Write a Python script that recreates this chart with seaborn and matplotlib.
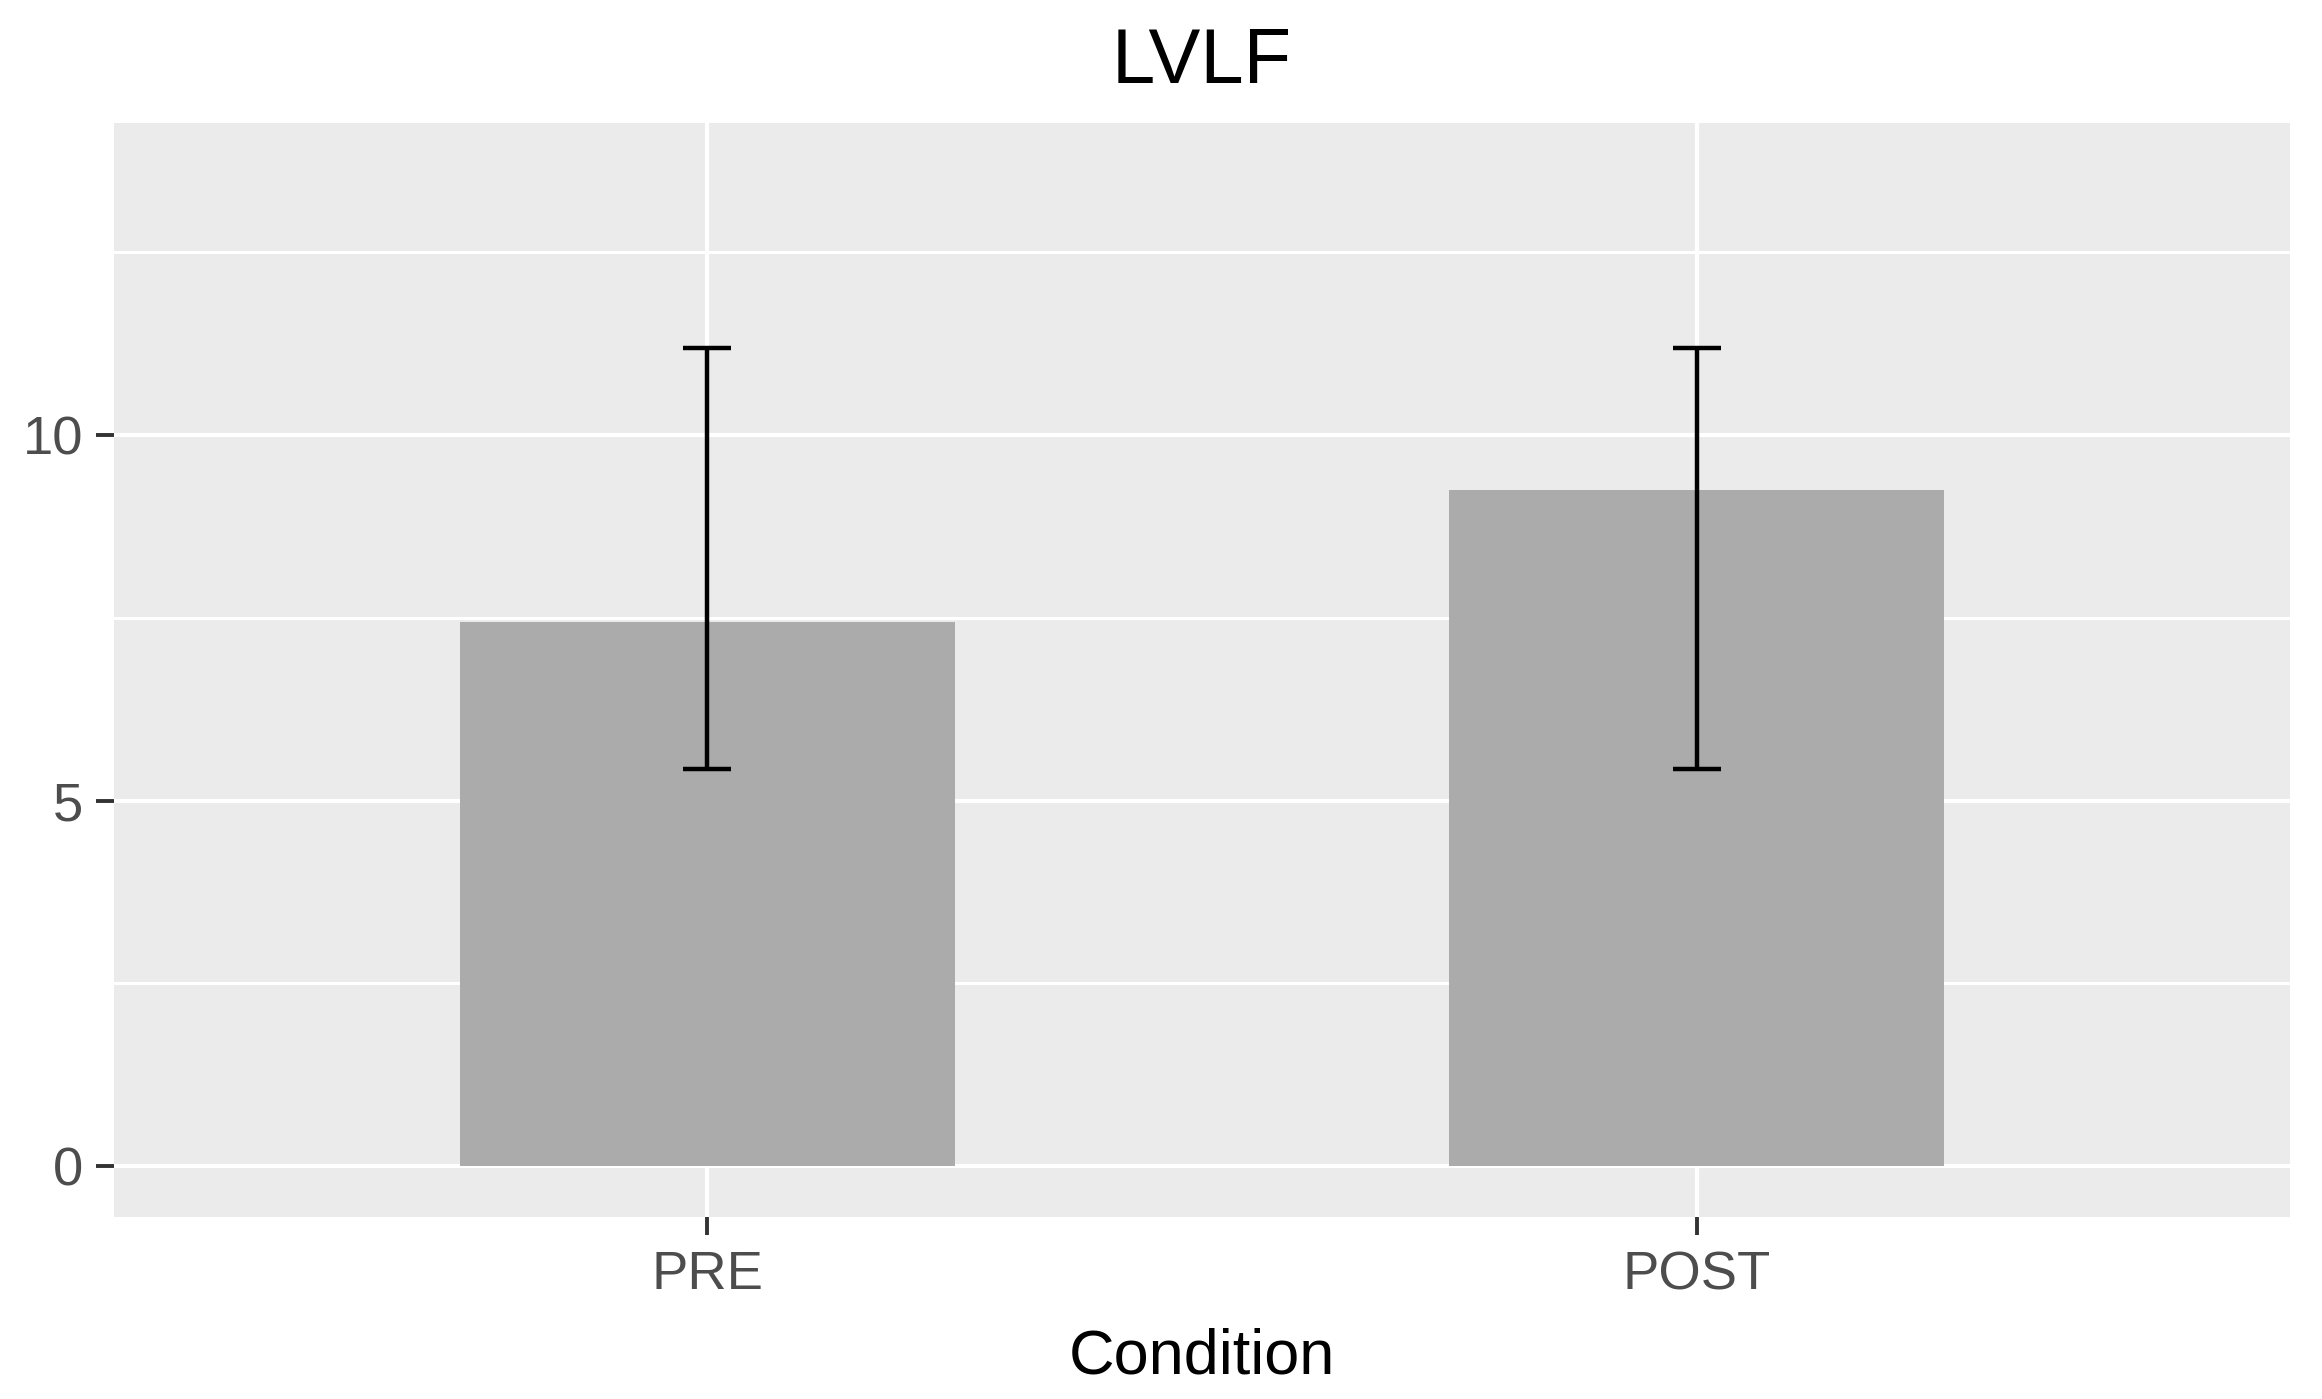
import matplotlib
matplotlib.use("Agg")
import matplotlib.pyplot as plt
from matplotlib.ticker import FixedLocator
import numpy as np
import pandas as pd
import seaborn as sns

# ---- data ----
conditions = ["PRE", "POST"]
means = [7.45, 9.25]
err_low = [5.44, 5.44]
err_high = [11.19, 11.19]
y_ticks = [0, 5, 10]
y_minor = [2.5, 7.5, 12.5]
title = "LVLF"
x_title = "Condition"

df = pd.DataFrame({"Condition": conditions, "value": means})

sns.set_theme(style="white")
plt.rcParams["font.family"] = ["Liberation Sans", "DejaVu Sans"]

W, H, DPI = 2322, 1399, 200
fig = plt.figure(figsize=(W / DPI, H / DPI), dpi=DPI)
ax = fig.add_axes([114 / W, 1 - 1216.7 / H, (2290 - 114) / W, (1216.7 - 123) / H])

sns.barplot(data=df, x="Condition", y="value", order=conditions,
            color="#ABABAB", saturation=1, width=0.5, errorbar=None,
            linewidth=0, ax=ax, zorder=2)

xpos = np.arange(len(conditions))
m = np.array(means)
ax.errorbar(xpos, m, yerr=[m - np.array(err_low), np.array(err_high) - m],
            fmt="none", ecolor="black", elinewidth=1.6, capsize=8.77,
            capthick=1.6, zorder=3)

ax.set_xlim(-0.6, 1.6)
ax.set_ylim(-0.69, 14.27)
ax.set_facecolor("#EBEBEB")
for s in ax.spines.values():
    s.set_visible(False)

ax.yaxis.set_major_locator(FixedLocator(y_ticks))
ax.yaxis.set_minor_locator(FixedLocator(y_minor))
ax.set_axisbelow(True)
ax.grid(which="major", axis="both", color="white", linewidth=1.5)
ax.grid(which="minor", axis="y", color="white", linewidth=1.1)

ax.tick_params(axis="both", which="major", length=6.5, width=1.4,
               color="#333333", labelcolor="#4D4D4D", labelsize=19.6,
               bottom=True, left=True, direction="out")
ax.tick_params(axis="x", pad=5.5)
ax.tick_params(axis="y", pad=4.7)
ax.tick_params(which="minor", length=0, left=False, bottom=False)

ax.set_ylabel("")
ax.set_xlabel(x_title, fontsize=22.7, color="black")
ax.xaxis.label.set_va("baseline")
ax.xaxis.set_label_coords(0.5, -(1374 - 1216.7) / (1216.7 - 123))

ax.set_title(title, fontsize=28, color="black", pad=14.4)

fig.savefig("out.png", dpi=DPI)
